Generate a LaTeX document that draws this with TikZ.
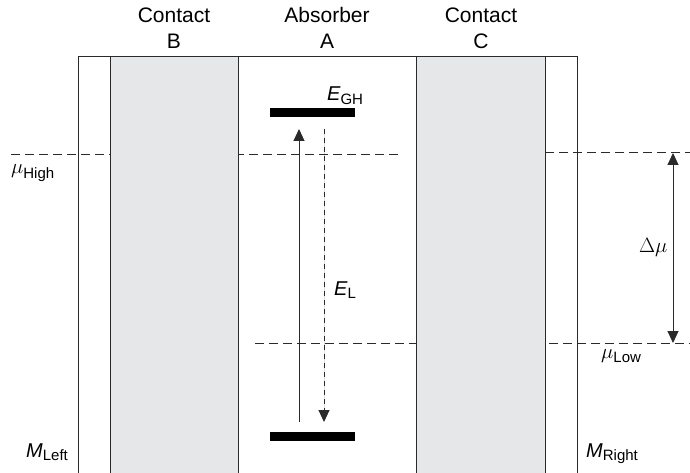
\documentclass[tikz,border=0pt]{standalone}
\usepackage{fontspec}
\setmainfont{Liberation Sans}
\usetikzlibrary{arrows.meta}
\definecolor{contactgray}{HTML}{E6E7E8}
\definecolor{linegray}{HTML}{2A2A2A}
\newcommand{\lsub}[1]{\raisebox{-0.35ex}{\fontsize{15}{15}\selectfont #1}}
\begin{document}
\begin{tikzpicture}[x=1pt,y=-1pt,
  frame/.style={draw=linegray, line width=1pt},
  contactfill/.style={fill=contactgray},
  level/.style={draw=linegray, line width=1pt, dash pattern=on 9pt off 5pt},
  bar/.style={fill=black, draw=none, minimum width=85pt, minimum height=8.5pt, inner sep=0pt},
  title/.style={font=\fontsize{21}{26}\selectfont, align=center, inner sep=0pt},
  lbl/.style={font=\fontsize{20}{24}\selectfont, inner sep=0pt},
  tri/.style={-{Triangle[length=12pt,width=11pt]}, draw=linegray, fill=black, line width=1pt}
]
\useasboundingbox (0,0) rectangle (690,473);
% energy levels (drawn first, contacts cover them)
\coordinate (hL1) at (11,155);
\coordinate (hL2) at (400,155);
\coordinate (hR1) at (545,153);
\coordinate (hR2) at (690,153);
\coordinate (lo1) at (255,343);
\coordinate (lo2) at (690,343);
\draw[level] (hL1) -- (hL2);
\draw[level] (hR1) -- (hR2);
\draw[level] (lo1) -- (lo2);
% contacts
\fill[contactfill] (110,57) rectangle (238,473);
\fill[contactfill] (416,57) rectangle (545,473);
\draw[frame] (110,473) -- (110,57) -- (238,57) -- (238,473);
\draw[frame] (416,473) -- (416,57) -- (545,57) -- (545,473);
% outer frame
\draw[frame] (78,473) -- (78,57) -- (577,57) -- (577,473);
% titles
\node[title] (tB) at (174,28) {Contact\\B};
\node[title] (tA) at (327,28) {Absorber\\A};
\node[title] (tC) at (481,28) {Contact\\C};
% absorber levels
\node[bar] (gh) at (312.5,112.5) {};
\node[bar] (gl) at (312.5,436.5) {};
\node[lbl, anchor=base west] (egh) at (327,101) {\itshape E\upshape\lsub{GH}};
\node[lbl, anchor=base west] (el) at (334,295) {\itshape E\upshape\lsub{L}};
% transitions
\coordinate (upS) at (299,422);
\coordinate (upE) at (299,129);
\coordinate (dnS) at (324,129);
\coordinate (dnE) at (324,422);
\draw[tri] (upS) -- (upE);
\draw[tri, dash pattern=on 5pt off 4pt] (dnS) -- (dnE);
% delta mu
\coordinate (dm1) at (673,153);
\coordinate (dm2) at (673,343);
\draw[tri, {Triangle[length=12pt,width=11pt]}-{Triangle[length=12pt,width=11pt]}] (dm1) -- (dm2);
\node[lbl, anchor=base west] (dmu) at (639,252) {$\Delta\mu$};
% chemical potential labels
\node[lbl, anchor=base west] (muH) at (11,174) {\fontsize{22}{24}\selectfont$\mu$\lsub{High}};
\node[lbl, anchor=base west] (muL) at (601,358) {\fontsize{22}{24}\selectfont$\mu$\lsub{Low}};
% metal labels
\node[lbl, anchor=base west] (mL) at (26,457) {\itshape M\upshape\lsub{Left}};
\node[lbl, anchor=base west] (mR) at (586,457) {\itshape M\upshape\lsub{Right}};
\end{tikzpicture}
\end{document}
